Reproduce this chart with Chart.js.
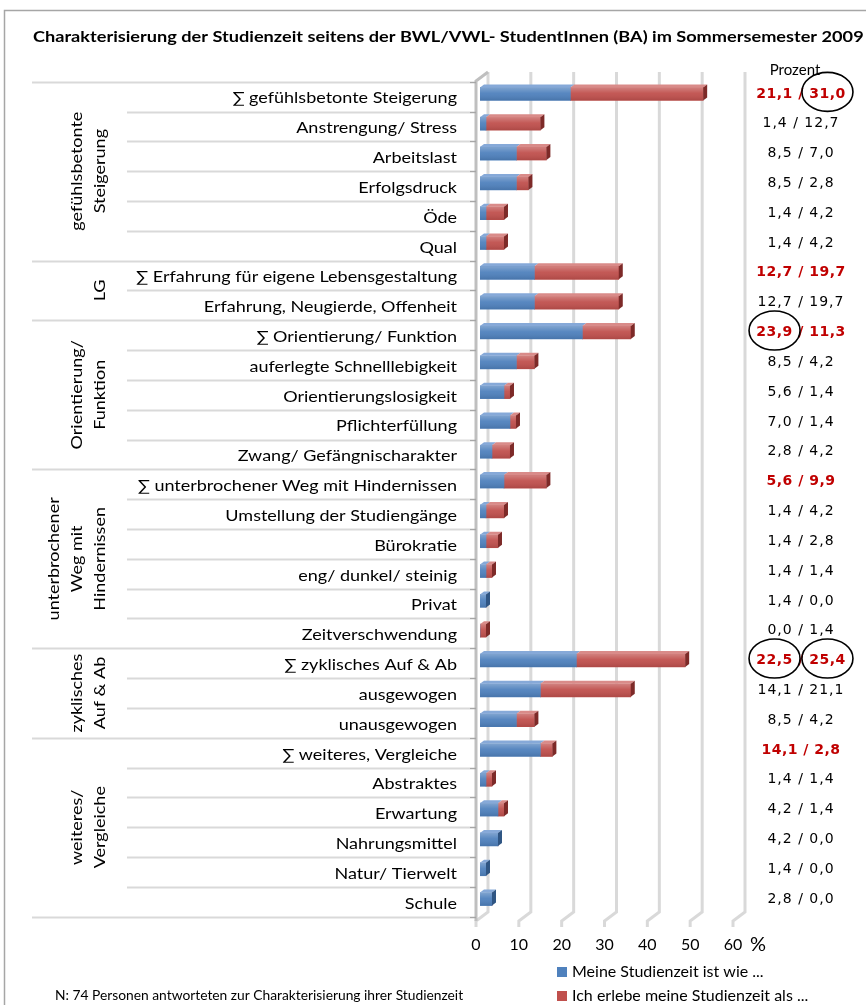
<!DOCTYPE html>
<html>
<head>
<meta charset="utf-8">
<script src="https://cdn.jsdelivr.net/npm/chart.js@4.4.1/dist/chart.umd.min.js"></script>
<style>
  html, body { margin: 0; padding: 0; background: #fff; overflow: hidden; }
  canvas { display: block; }
</style>
</head>
<body>
<canvas id="chart" width="866" height="1005"></canvas>
<script>
// ---- Data ---------------------------------------------------------------
const categories = [
  '∑ gefühlsbetonte Steigerung', 'Anstrengung/ Stress', 'Arbeitslast', 'Erfolgsdruck', 'Öde', 'Qual',
  '∑ Erfahrung für eigene Lebensgestaltung', 'Erfahrung, Neugierde, Offenheit',
  '∑ Orientierung/ Funktion', 'auferlegte Schnelllebigkeit', 'Orientierungslosigkeit', 'Pflichterfüllung', 'Zwang/ Gefängnischarakter',
  '∑ unterbrochener Weg mit Hindernissen', 'Umstellung der Studiengänge', 'Bürokratie', 'eng/ dunkel/ steinig', 'Privat', 'Zeitverschwendung',
  '∑ zyklisches Auf & Ab', 'ausgewogen', 'unausgewogen',
  '∑ weiteres, Vergleiche', 'Abstraktes', 'Erwartung', 'Nahrungsmittel', 'Natur/ Tierwelt', 'Schule'
];
const studienzeitIstWie = [
  21.1, 1.4, 8.5, 8.5, 1.4, 1.4,
  12.7, 12.7,
  23.9, 8.5, 5.6, 7.0, 2.8,
  5.6, 1.4, 1.4, 1.4, 1.4, 0.0,
  22.5, 14.1, 8.5,
  14.1, 1.4, 4.2, 4.2, 1.4, 2.8
];
const erlebeStudienzeitAls = [
  31.0, 12.7, 7.0, 2.8, 4.2, 4.2,
  19.7, 19.7,
  11.3, 4.2, 1.4, 1.4, 4.2,
  9.9, 4.2, 2.8, 1.4, 0.0, 1.4,
  25.4, 21.1, 4.2,
  2.8, 1.4, 1.4, 0.0, 0.0, 0.0
];
const seriesNames = ['Meine Studienzeit ist wie ...', 'Ich erlebe meine Studienzeit als ...'];
const groups = [
  { lines: ['gefühlsbetonte', 'Steigerung'], first: 0, last: 5 },
  { lines: ['LG'], first: 6, last: 7 },
  { lines: ['Orientierung/', 'Funktion'], first: 8, last: 12 },
  { lines: ['unterbrochener', 'Weg mit', 'Hindernissen'], first: 13, last: 18 },
  { lines: ['zyklisches', 'Auf & Ab'], first: 19, last: 21 },
  { lines: ['weiteres/', 'Vergleiche'], first: 22, last: 27 }
];
const xTicks = [0, 10, 20, 30, 40, 50, 60];
// values circled in the percentage column: [row, 0 = first value / 1 = second value]
const circledValues = [[0, 1], [8, 0], [19, 0], [19, 1]];
const titleText = 'Charakterisierung der Studienzeit seitens der BWL/VWL- StudentInnen (BA) im Sommersemester 2009';
const footnoteText = 'N: 74 Personen antworteten zur Charakterisierung ihrer Studienzeit';

// ---- Styling ------------------------------------------------------------
const FAMILY = 'Lato, "Open Sans", sans-serif';
const VALUE_FAMILY = '"DejaVu Sans", Verdana, sans-serif';
const BLUE = { front: '#4f81bd', top: '#86a9d8', side: '#2f5583' };
const RED = { front: '#c0504d', top: '#d98b89', side: '#7d2a28' };
const DEPTH_X = 4, DEPTH_Y = 3;      // bar extrusion
const WALL_DX = 12, WALL_DY = 9;     // back wall offset of the 3D floor
const ROW_SHIFT = 2.7;               // category rows sit slightly below the bars
const STRETCH = 1.2;                 // wide-set label lettering

const fmt = v => v.toFixed(1).replace('.', ',');
const isSum = i => categories[i].startsWith('∑');

function line(ctx, pts, color, width) {
  ctx.beginPath();
  ctx.moveTo(pts[0][0], pts[0][1]);
  for (let k = 1; k < pts.length; k++) ctx.lineTo(pts[k][0], pts[k][1]);
  ctx.strokeStyle = color;
  ctx.lineWidth = width;
  ctx.stroke();
}
function poly(ctx, pts, color) {
  ctx.beginPath();
  ctx.moveTo(pts[0][0], pts[0][1]);
  for (let k = 1; k < pts.length; k++) ctx.lineTo(pts[k][0], pts[k][1]);
  ctx.closePath();
  ctx.fillStyle = color;
  ctx.fill();
}
// text drawn with a horizontal stretch along its own direction
function wideText(ctx, text, x, y, align, sx, angle) {
  ctx.save();
  ctx.translate(x, y);
  if (angle) ctx.rotate(angle);
  ctx.scale(sx, 1);
  ctx.textAlign = align;
  ctx.fillText(text, 0, 0);
  ctx.restore();
}

const decorations = {
  id: 'decorations',
  beforeDraw(chart) {
    const ctx = chart.ctx;
    ctx.save();
    ctx.fillStyle = '#fff';
    ctx.fillRect(0, 0, chart.width, chart.height);
    // outer frame
    line(ctx, [[4.5, chart.height], [4.5, 10.5], [chart.width, 10.5]], '#a6a6a6', 1.5);
    // title
    ctx.fillStyle = '#000';
    ctx.font = `bold 15px ${FAMILY}`;
    ctx.textBaseline = 'middle';
    wideText(ctx, titleText, 33, 37, 'left', 1.21);
    // column heading
    ctx.font = `15px ${FAMILY}`;
    ctx.textAlign = 'center';
    ctx.fillText('Prozent', 795, 70);
    ctx.restore();
  },
  beforeDatasetsDraw(chart) {
    const ctx = chart.ctx, xs = chart.scales.x, ys = chart.scales.y, area = chart.chartArea;
    const rowH = (area.bottom - area.top) / categories.length;
    const floorFront = area.bottom + 7, floorBack = floorFront - WALL_DY;
    const wallTop = area.top - 7;
    ctx.save();
    // back wall grid lines and floor
    xTicks.forEach(v => {
      const fx = xs.getPixelForValue(v) - 4, bx = fx + WALL_DX;
      line(ctx, [[bx, wallTop], [bx, floorBack], [fx, floorFront], [fx, floorFront + 6]], '#d9d9d9', 3);
    });
    // left wall edge
    const fx0 = xs.getPixelForValue(0) - 4;
    line(ctx, [[fx0, floorFront], [fx0, wallTop + WALL_DY], [fx0 + WALL_DX, wallTop]], '#bfbfbf', 3);

    // category separators (longer at group boundaries)
    const boundaries = new Set(groups.map(g => g.first).concat([categories.length]));
    for (let i = 0; i <= categories.length; i++) {
      const y = Math.round(area.top + i * rowH + ROW_SHIFT) + 0.5;
      const x0 = boundaries.has(i) ? 32 : 127;
      line(ctx, [[x0, y], [fx0 - 6, y]], '#d9d9d9', 2);
      line(ctx, [[fx0 - 6, y], [fx0, y]], '#a6a6a6', 1.5);
    }

    // category labels
    ctx.fillStyle = '#000';
    ctx.font = `15px ${FAMILY}`;
    ctx.textBaseline = 'middle';
    categories.forEach((c, i) => {
      wideText(ctx, c, 457, ys.getPixelForValue(i) + ROW_SHIFT + 2, 'right', STRETCH);
    });

    // rotated group labels
    groups.forEach(g => {
      const yTop = area.top + g.first * rowH + ROW_SHIFT;
      const yBot = area.top + (g.last + 1) * rowH + ROW_SHIFT;
      const cy = (yTop + yBot) / 2;
      const n = g.lines.length;
      g.lines.forEach((t, k) => {
        const x = 100 - (n - 1 - k) * 23;
        wideText(ctx, t, x, cy, 'center', STRETCH, -Math.PI / 2);
      });
    });
    ctx.restore();
  },
  afterDatasetsDraw(chart) {
    const ctx = chart.ctx, xs = chart.scales.x, ys = chart.scales.y;
    const metas = [chart.getDatasetMeta(0), chart.getDatasetMeta(1)];
    const palettes = [BLUE, RED];
    const series = [studienzeitIstWie, erlebeStudienzeitAls];
    ctx.save();
    // 3D faces of the bars
    categories.forEach((c, i) => {
      const lastSeg = series[1][i] > 0 ? 1 : 0;
      [0, 1].forEach(d => {
        if (!(series[d][i] > 0)) return;
        const el = metas[d].data[i];
        const top = el.y - el.height / 2, bottom = el.y + el.height / 2;
        const x0 = Math.min(el.base, el.x), x1 = Math.max(el.base, el.x);
        poly(ctx, [[x0, top], [x1, top], [x1 + DEPTH_X, top - DEPTH_Y], [x0 + DEPTH_X, top - DEPTH_Y]], palettes[d].top);
        // soft shine on the front face
        const g = ctx.createLinearGradient(0, top, 0, bottom);
        g.addColorStop(0, 'rgba(255,255,255,0.28)');
        g.addColorStop(0.45, 'rgba(255,255,255,0.05)');
        g.addColorStop(1, 'rgba(0,0,0,0.10)');
        ctx.fillStyle = g;
        ctx.fillRect(x0, top, x1 - x0, bottom - top);
        if (d === lastSeg) {
          poly(ctx, [[x1, top], [x1 + DEPTH_X, top - DEPTH_Y], [x1 + DEPTH_X, bottom - DEPTH_Y], [x1, bottom]], palettes[d].side);
        }
      });
    });

    // percentage column
    ctx.textBaseline = 'middle';
    ctx.textAlign = 'left';
    const colCenter = 801;
    categories.forEach((c, i) => {
      const y = ys.getPixelForValue(i);
      const a = fmt(studienzeitIstWie[i]), b = fmt(erlebeStudienzeitAls[i]);
      const text = `${a} / ${b}`;
      const sum = isSum(i);
      ctx.font = `${sum ? 'bold ' : ''}14px ${VALUE_FAMILY}`;
      ctx.letterSpacing = sum ? '0.5px' : '1px';
      ctx.fillStyle = sum ? '#c00000' : '#000';
      const w = ctx.measureText(text).width;
      const left = colCenter - w / 2;
      ctx.fillText(text, left, y);
      circledValues.filter(cv => cv[0] === i).forEach(cv => {
        const wa = ctx.measureText(a).width, wb = ctx.measureText(b).width;
        const cx = cv[1] === 0 ? left + wa / 2 : left + w - wb / 2;
        ctx.beginPath();
        ctx.ellipse(cx, y - 2, 25.5, 19.5, 0, 0, Math.PI * 2);
        ctx.strokeStyle = '#000';
        ctx.lineWidth = 1.6;
        ctx.stroke();
      });
    });
    ctx.letterSpacing = '0px';

    // value axis labels
    ctx.fillStyle = '#000';
    ctx.font = `16px ${FAMILY}`;
    ctx.textAlign = 'center';
    xTicks.forEach(v => ctx.fillText(String(v), xs.getPixelForValue(v) - 4, 945));
    ctx.font = `20px ${FAMILY}`;
    ctx.fillText('%', 758, 945);

    // legend
    ctx.font = `16px ${FAMILY}`;
    ctx.textAlign = 'left';
    [[BLUE.front, 972], [RED.front, 996]].forEach(([col, y], k) => {
      ctx.fillStyle = col;
      ctx.fillRect(557, y - 5, 10, 10);
      ctx.fillStyle = '#000';
      ctx.fillText(seriesNames[k], 572, y);
    });
    // footnote
    ctx.font = `13.8px ${FAMILY}`;
    ctx.fillText(footnoteText, 55, 996);
    ctx.restore();
  }
};

new Chart(document.getElementById('chart'), {
  type: 'bar',
  data: {
    labels: categories,
    datasets: [
      { label: seriesNames[0], data: studienzeitIstWie, backgroundColor: BLUE.front, borderWidth: 0, barThickness: 13 },
      { label: seriesNames[1], data: erlebeStudienzeitAls, backgroundColor: RED.front, borderWidth: 0, barThickness: 13 }
    ]
  },
  options: {
    indexAxis: 'y',
    responsive: false,
    animation: false,
    devicePixelRatio: 1,
    layout: { padding: { top: 79, right: 129, bottom: 0, left: 0 } },
    plugins: { legend: { display: false }, tooltip: { enabled: false }, title: { display: false } },
    scales: {
      x: {
        stacked: true, min: 0, max: 60,
        afterBuildTicks: s => { s.ticks = xTicks.map(v => ({ value: v })); },
        grid: { display: false, drawTicks: false }, border: { display: false },
        ticks: { display: false },
        afterFit: s => { s.height = 1005 - 914; }
      },
      y: {
        stacked: true,
        grid: { display: false, drawTicks: false }, border: { display: false },
        ticks: { display: false },
        afterFit: s => { s.width = 480; }
      }
    }
  },
  plugins: [decorations]
});
</script>
</body>
</html>
